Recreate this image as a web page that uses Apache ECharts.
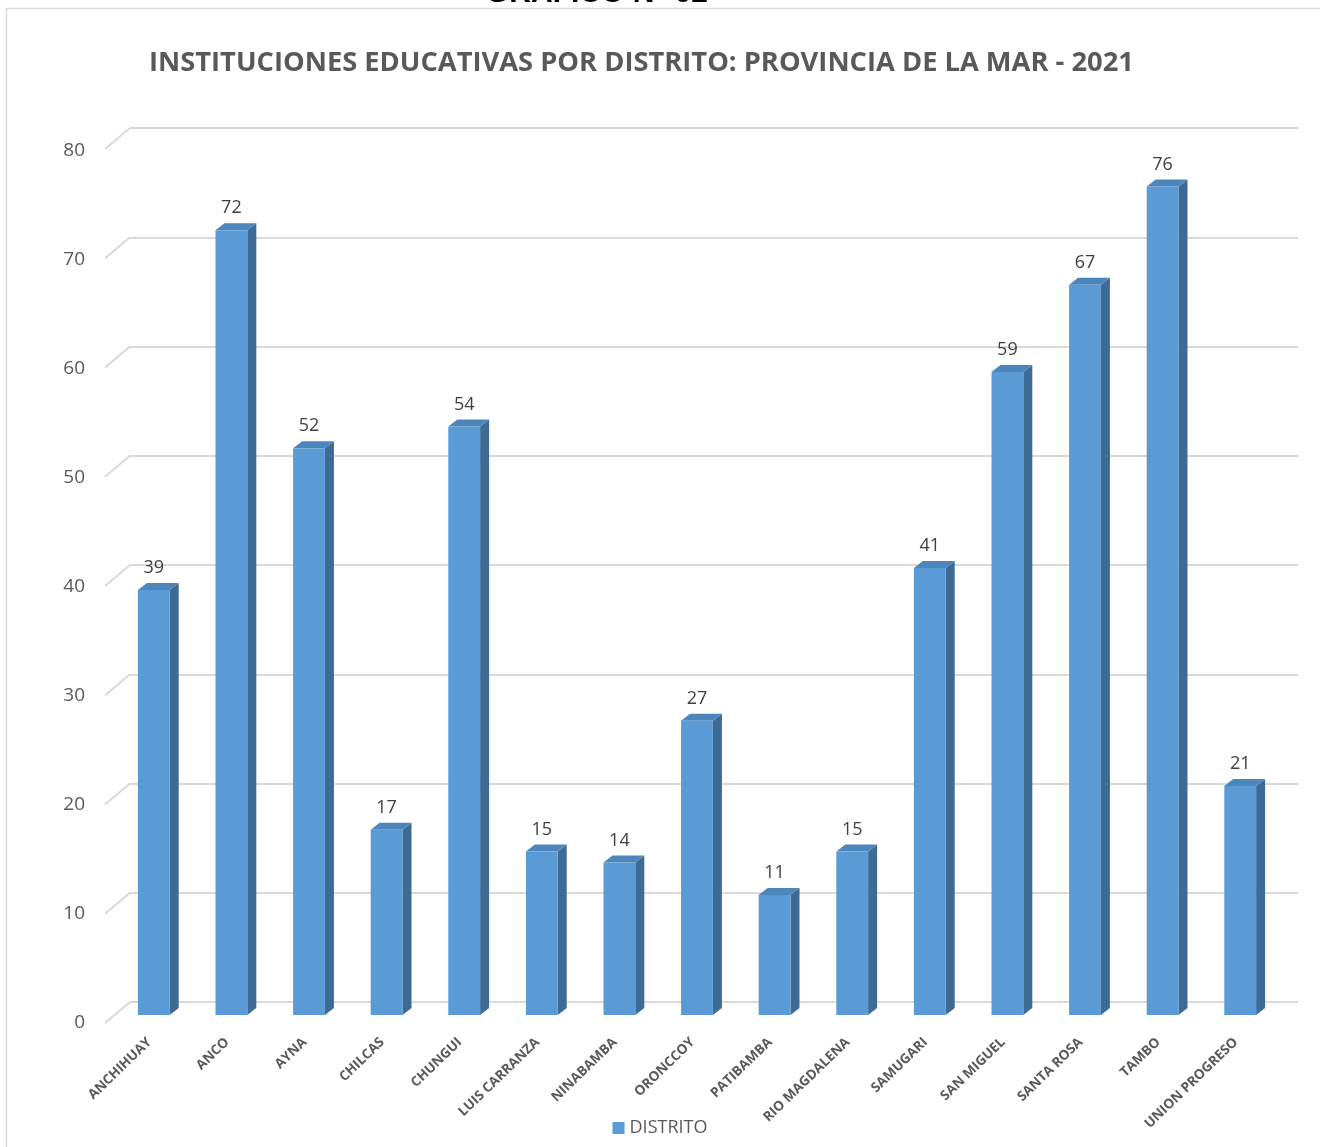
<!DOCTYPE html>
<html><head><meta charset="utf-8">
<script src="https://cdn.jsdelivr.net/npm/echarts@6/dist/echarts.min.js"></script>
<style>html,body{margin:0;padding:0;background:#fff}#c{width:1320px;height:1147px}</style>
</head><body><div id="c"></div>
<script>
const categories = ['ANCHIHUAY','ANCO','AYNA','CHILCAS','CHUNGUI','LUIS CARRANZA','NINABAMBA','ORONCCOY','PATIBAMBA','RIO MAGDALENA','SAMUGARI','SAN MIGUEL','SANTA ROSA','TAMBO','UNION PROGRESO'];
const values = [39,72,52,17,54,15,14,27,11,15,41,59,67,76,21];
const yTicks = [0,10,20,30,40,50,60,70,80];
const seriesName = 'DISTRITO';
const titleText = 'INSTITUCIONES EDUCATIVAS POR DISTRITO: PROVINCIA DE LA MAR - 2021';
const headerText = 'GRÁFICO N° 02';

const FONT = '"Open Sans", "Liberation Sans", sans-serif';
const FRONT = '#5B9BD5', SIDE = '#3E6B95', TOP = '#4D86BD';
const DX = 9, DY = -7;

const chart = echarts.init(document.getElementById('c'));
chart.setOption({
  animation: false,
  backgroundColor: '#fff',
  graphic: [
    {type:'rect', shape:{x:6.5,y:8.5,width:1330,height:1160}, style:{fill:'none',stroke:'#D9D9D9',lineWidth:1.5}, z:-10},
    {type:'text', x:597, y:-21, z:10, style:{text:headerText, font:'bold 30px "Liberation Sans", sans-serif', fill:'#000', textAlign:'center', textVerticalAlign:'top'}}
  ],
  title: {text: titleText, left: 149, top: 50, padding: 0,
    textStyle:{fontFamily:FONT, fontWeight:'bold', fontSize:27.3, color:'#595959'}},
  legend: {bottom: 5, left:'center', itemWidth:12, itemHeight:12, itemGap:6,
    textStyle:{fontFamily:FONT, fontSize:18, color:'#595959'},
    data:[{name:seriesName, icon:'rect', itemStyle:{color:FRONT}}]},
  grid: [
    {left:130, right:22, top:128, bottom:145},
    {left:115, right:41, top:143, bottom:132},
    {left:95, right:41, top:151, bottom:124}
  ],
  xAxis: [
    {gridIndex:0, type:'value', min:0, max:1, show:false},
    {gridIndex:1, type:'category', data:categories,
      axisLine:{show:false}, axisTick:{show:false},
      axisLabel:{interval:0, rotate:44, margin:21, padding:[0,6,0,0], fontFamily:FONT, fontSize:13.5, fontWeight:'bold', color:'#595959'}},
    {gridIndex:2, type:'value', min:0, max:1, show:false}
  ],
  yAxis: [
    {gridIndex:0, type:'value', min:0, max:80, interval:10,
      axisLine:{show:false}, axisTick:{show:false}, axisLabel:{show:false},
      splitLine:{show:true, lineStyle:{color:'#D9D9D9', width:2}}},
    {gridIndex:1, type:'value', min:0, max:80, interval:10, show:false, splitLine:{show:false}},
    {gridIndex:2, type:'value', min:0, max:80, interval:10,
      axisLine:{show:false}, axisTick:{show:false}, splitLine:{show:false},
      axisLabel:{margin:10, fontFamily:FONT, fontSize:19, color:'#595959'}}
  ],
  series: [
    {type:'custom', xAxisIndex:0, yAxisIndex:0, data: yTicks.map(v=>[0,v]), silent:true,
      renderItem(params, api){
        const p = api.coord([0, api.value(1)]);
        return {type:'line', shape:{x1:p[0], y1:p[1], x2:p[0]-25, y2:p[1]+21},
          style:{stroke:'#D9D9D9', lineWidth:2}};
      }},
    {type:'custom', name:seriesName, xAxisIndex:1, yAxisIndex:1,
      itemStyle:{color:FRONT},
      data: values.map((v,i)=>[i,v]),
      renderItem(params, api){
        const top = api.coord([api.value(0), api.value(1)]);
        const base = api.coord([api.value(0), 0]);
        const band = api.size([1,0])[0];
        const w = band*0.41;
        const xl = top[0]-w/2, xr = top[0]+w/2, yt = top[1], yb = base[1];
        return {type:'group', children:[
          {type:'polygon', shape:{points:[[xr,yt],[xr+DX,yt+DY],[xr+DX,yb+DY],[xr,yb]]}, style:{fill:SIDE}},
          {type:'polygon', shape:{points:[[xl,yt],[xl+DX,yt+DY],[xr+DX,yt+DY],[xr,yt]]}, style:{fill:TOP}},
          {type:'rect', shape:{x:xl, y:yt, width:w, height:yb-yt}, style:{fill:FRONT}},
          {type:'text', x:top[0], y:yt-13, style:{text:String(api.value(1)), font:'18px '+FONT, fill:'#404040', textAlign:'center', textVerticalAlign:'bottom'}}
        ]};
      }}
  ]
});
</script></body></html>
